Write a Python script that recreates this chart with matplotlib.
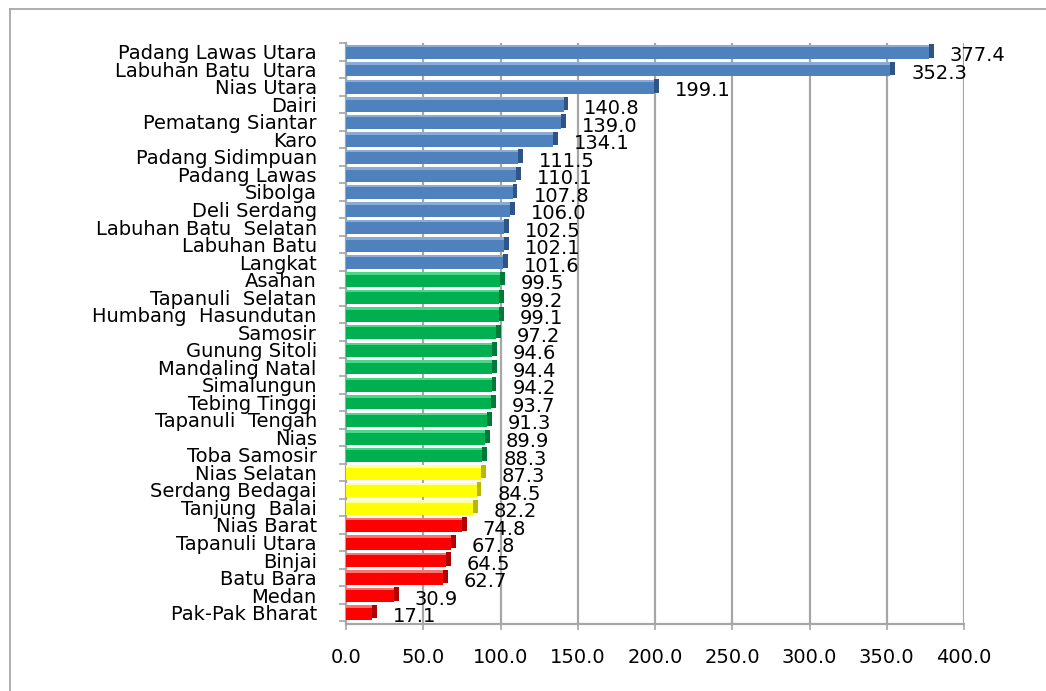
import matplotlib
matplotlib.use("Agg")
import matplotlib.pyplot as plt
from matplotlib.lines import Line2D
import numpy as np

categories = ["Padang Lawas Utara", "Labuhan Batu  Utara", "Nias Utara", "Dairi",
              "Pematang Siantar", "Karo", "Padang Sidimpuan", "Padang Lawas", "Sibolga",
              "Deli Serdang", "Labuhan Batu  Selatan", "Labuhan Batu", "Langkat",
              "Asahan", "Tapanuli  Selatan", "Humbang  Hasundutan", "Samosir",
              "Gunung Sitoli", "Mandaling Natal", "Simalungun", "Tebing Tinggi",
              "Tapanuli  Tengah", "Nias", "Toba Samosir", "Nias Selatan",
              "Serdang Bedagai", "Tanjung  Balai", "Nias Barat", "Tapanuli Utara",
              "Binjai", "Batu Bara", "Medan", "Pak-Pak Bharat"]
values = [377.4, 352.3, 199.1, 140.8, 139.0, 134.1, 111.5, 110.1, 107.8, 106.0,
          102.5, 102.1, 101.6, 99.5, 99.2, 99.1, 97.2, 94.6, 94.4, 94.2, 93.7,
          91.3, 89.9, 88.3, 87.3, 84.5, 82.2, 74.8, 67.8, 64.5, 62.7, 30.9, 17.1]
groups = ["blue"] * 13 + ["green"] * 11 + ["yellow"] * 3 + ["red"] * 6
x_ticks = [0, 50, 100, 150, 200, 250, 300, 350, 400]

face = {"blue": "#4F81BD", "green": "#00B050", "yellow": "#FFFF00", "red": "#FF0000"}
dark = {"blue": "#2F5486", "green": "#007A38", "yellow": "#B8B800", "red": "#B00000"}
light = {"blue": "#8AABD6", "green": "#4CD68A", "yellow": "#FFFFA8", "red": "#FF7070"}

fig = plt.figure(figsize=(10.46, 6.91), dpi=100)
ax = fig.add_axes([346 / 1046, 1 - 624 / 691, (964 - 346) / 1046, (624 - 43) / 691])

y = np.arange(len(categories))
h = 0.82
fc = [face[g] for g in groups]
dc = [dark[g] for g in groups]
lc = [light[g] for g in groups]

ax.barh(y, values, height=h, color=fc, zorder=3)
# bevel top edge
ax.barh(y - h / 2 + 0.07, values, height=0.14, color=lc, zorder=4)
# 3D end cap
ax.barh(y - 0.05, [3.2] * len(values), left=values, height=h - 0.05, color=dc, zorder=3)

for yi, v in zip(y, values):
    ax.annotate(f"{v:.1f}", xy=(v, yi), xytext=(15, -3), textcoords="offset points",
                ha="left", va="center", fontsize=14, color="black", zorder=5)

ax.set_ylim(len(categories) - 0.35, -0.5)
ax.set_xlim(0, 400)
ax.set_xticks(x_ticks)
ax.set_xticklabels([f"{t:.1f}" for t in x_ticks], fontsize=14)
ax.set_yticks(y)
ax.set_yticklabels(categories, fontsize=14)
ax.set_yticks(np.arange(len(categories) + 1) - 0.5, minor=True)

ax.tick_params(axis="y", which="major", length=0, pad=21)
ax.tick_params(axis="y", which="minor", length=5, width=1.2, color="#A6A6A6")
ax.tick_params(axis="x", which="major", length=4, width=1.2, color="#A6A6A6", pad=13)

ax.grid(axis="x", color="#A6A6A6", linewidth=1.6, zorder=0)
ax.set_axisbelow(True)
for s in ["top", "right"]:
    ax.spines[s].set_visible(False)
for s in ["left", "bottom"]:
    ax.spines[s].set_color("#A6A6A6")
    ax.spines[s].set_linewidth(1.6)

# figure border (left and top visible)
fig.add_artist(Line2D([10 / 1046, 10 / 1046], [0, 1 - 9 / 691], transform=fig.transFigure,
                      color="#A0A0A0", linewidth=1.2))
fig.add_artist(Line2D([10 / 1046, 1], [1 - 9 / 691, 1 - 9 / 691], transform=fig.transFigure,
                      color="#A0A0A0", linewidth=1.2))

fig.savefig("out.png", dpi=100, facecolor="white")
